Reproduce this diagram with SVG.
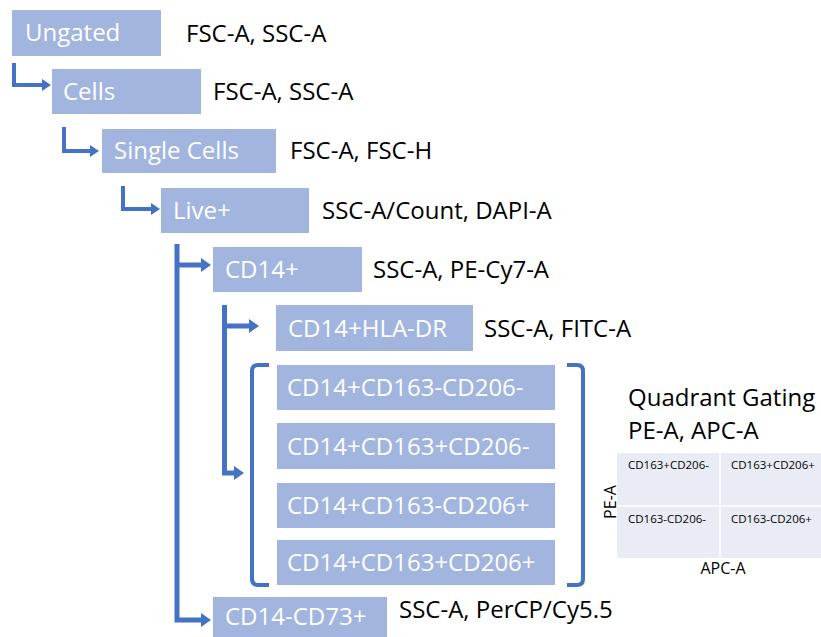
<svg xmlns="http://www.w3.org/2000/svg" width="821" height="637" viewBox="0 0 821 637">
<defs>
<style>
.box{fill:#a1b5df}
.bt{font-family:"Open Sans","Liberation Sans",sans-serif;font-size:24px;fill:#ffffff}
.lb{font-family:"Open Sans","Liberation Sans",sans-serif;font-size:24px;fill:#000000}
.c{fill:none;stroke:#4472c4;stroke-width:4;stroke-linejoin:miter}
.ct{fill:none;stroke:#4472c4;stroke-width:5;stroke-linejoin:miter}
.qs{font-family:"Open Sans","Liberation Sans",sans-serif;font-size:11.5px;fill:#000000}
.ax{font-family:"Open Sans","Liberation Sans",sans-serif;font-size:16px;fill:#000000}
</style>
<marker id="a" markerUnits="userSpaceOnUse" markerWidth="10" markerHeight="12" refX="1" refY="6" orient="auto">
<path d="M0,0 L9,6 L0,12 z" fill="#4472c4"/>
</marker>
<marker id="at" markerUnits="userSpaceOnUse" markerWidth="11" markerHeight="14" refX="1" refY="7" orient="auto">
<path d="M0,0 L10,7 L0,14 z" fill="#4472c4"/>
</marker>
</defs>
<g id="connectors">
<path class="c" d="M14,63 V85 H43" marker-end="url(#a)"/>
<path class="c" d="M64,127 V151 H91" marker-end="url(#a)"/>
<path class="c" d="M123,186 V209 H152" marker-end="url(#a)"/>
<path class="ct" d="M177,244 V620 H202" marker-end="url(#at)"/>
<path class="ct" d="M177,265 H202" marker-end="url(#at)"/>
<path class="ct" d="M224.5,305 V473 H235" marker-end="url(#at)"/>
<path class="ct" d="M224.5,326 H250" marker-end="url(#at)"/>
<path class="c" d="M269,365 H258 Q252,365 252,371 V579 Q252,585 258,585 H269"/>
<path class="c" d="M567,365 H577 Q583,365 583,371 V579 Q583,585 577,585 H567"/>
</g>
<g id="ungated">
<rect class="box" x="12" y="10" width="149" height="46"/>
<text class="bt" x="25" y="41">Ungated</text>
<text class="lb" x="186" y="42">FSC-A, SSC-A</text>
</g>
<g id="cells">
<rect class="box" x="52" y="69" width="149" height="45"/>
<text class="bt" x="63" y="100">Cells</text>
<text class="lb" x="213" y="100">FSC-A, SSC-A</text>
</g>
<g id="single-cells">
<rect class="box" x="102" y="129" width="174" height="44"/>
<text class="bt" x="114" y="159">Single Cells</text>
<text class="lb" x="290" y="159">FSC-A, FSC-H</text>
</g>
<g id="live">
<rect class="box" x="161" y="188" width="148" height="45"/>
<text class="bt" x="173" y="219">Live+</text>
<text class="lb" x="322" y="219">SSC-A/Count, DAPI-A</text>
</g>
<g id="cd14">
<rect class="box" x="213" y="247" width="149" height="45"/>
<text class="bt" x="225" y="278">CD14+</text>
<text class="lb" x="373" y="278">SSC-A, PE-Cy7-A</text>
</g>
<g id="cd14-hla-dr">
<rect class="box" x="276" y="305" width="197" height="46"/>
<text class="bt" x="288" y="337">CD14+HLA-DR</text>
<text class="lb" x="484" y="337">SSC-A, FITC-A</text>
</g>
<g id="q1">
<rect class="box" x="277" y="365" width="278" height="45"/>
<text class="bt" x="287" y="396">CD14+CD163-CD206-</text>
</g>
<g id="q2">
<rect class="box" x="277" y="423" width="278" height="46"/>
<text class="bt" x="287" y="455">CD14+CD163+CD206-</text>
</g>
<g id="q3">
<rect class="box" x="277" y="483" width="278" height="45"/>
<text class="bt" x="287" y="514">CD14+CD163-CD206+</text>
</g>
<g id="q4">
<rect class="box" x="277" y="540" width="278" height="45"/>
<text class="bt" x="287" y="571">CD14+CD163+CD206+</text>
</g>
<g id="cd14-cd73">
<rect class="box" x="213" y="597" width="174" height="45"/>
<text class="bt" x="225" y="625">CD14-CD73+</text>
<text class="lb" x="399" y="618">SSC-A, PerCP/Cy5.5</text>
</g>
<g id="quadrant">
<text class="lb" x="628" y="406">Quadrant Gating</text>
<text class="lb" x="628" y="439">PE-A, APC-A</text>
<rect x="617" y="453" width="204" height="105" fill="#e9ecf5"/>
<line x1="720" y1="453" x2="720" y2="558" stroke="#ffffff" stroke-width="1.5"/>
<line x1="617" y1="506" x2="821" y2="506" stroke="#ffffff" stroke-width="1.5"/>
<text class="qs" x="628" y="469">CD163+CD206-</text>
<text class="qs" x="731" y="469">CD163+CD206+</text>
<text class="qs" x="628" y="523">CD163-CD206-</text>
<text class="qs" x="731" y="523">CD163-CD206+</text>
<text class="ax" x="723" y="574" text-anchor="middle">APC-A</text>
<text class="ax" transform="translate(616,502) rotate(-90)" text-anchor="middle">PE-A</text>
</g>
</svg>
